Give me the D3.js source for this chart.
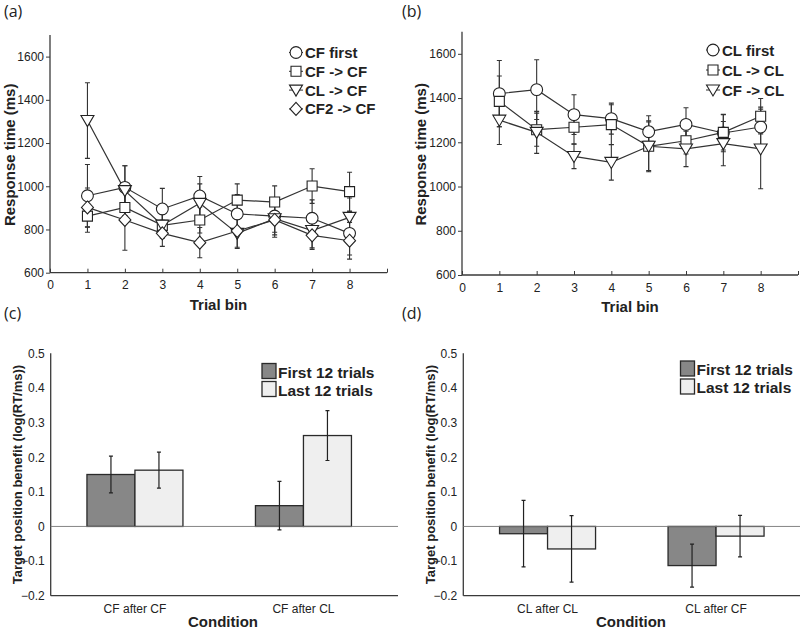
<!DOCTYPE html>
<html><head><meta charset="utf-8">
<script src="https://cdn.jsdelivr.net/npm/d3@7"></script>
<style>body{margin:0;background:#fff}svg{display:block;font-family:"Liberation Sans",Arial,sans-serif}</style>
</head><body>
<svg id="c" width="800" height="630"></svg>
<script>
// ---------- DATA ----------
const bins = [1, 2, 3, 4, 5, 6, 7, 8];
const xTicksLine = [0, 1, 2, 3, 4, 5, 6, 7, 8, 9];
const yTicksLine = [600, 800, 1000, 1200, 1400, 1600];

const seriesA = ["CF first", "CF -> CF", "CL -> CF", "CF2 -> CF"];
const aCFfirst = [956, 995, 895, 955, 872, 862, 852, 782];
const aCFfirstErr = [145, 100, 95, 90, 90, 75, 85, 100];
const aCFCF = [862, 902, 819, 844, 936, 927, 1001, 975];
const aCFCFErr = [75, 70, 50, 60, 75, 75, 80, 90];
const aCLCF = [1304, 980, 820, 921, 782, 850, 795, 856];
const aCLCFErr = [175, 115, 60, 90, 70, 75, 80, 90];
const aCF2CF = [902, 844, 782, 739, 793, 844, 773, 748];
const aCF2CFErr = [90, 140, 60, 70, 75, 80, 65, 85];

const seriesB = ["CL first", "CL -> CL", "CF -> CL"];
const bCLfirst = [1420, 1438, 1325, 1307, 1248, 1281, 1242, 1269];
const bCLfirstErr = [150, 135, 90, 70, 72, 75, 85, 90];
const bCLCL = [1385, 1257, 1268, 1280, 1182, 1207, 1245, 1318];
const bCLCLErr = [115, 75, 75, 90, 110, 60, 80, 80];
const bCFCL = [1300, 1245, 1136, 1109, 1182, 1170, 1194, 1170];
const bCFCLErr = [110, 95, 55, 80, 115, 80, 100, 180];

const barSeries = ["First 12 trials", "Last 12 trials"];
const barTicks = [-0.2, -0.1, 0, 0.1, 0.2, 0.3, 0.4, 0.5];
const cCats = ["CF after CF", "CF after CL"];
const cFirst = [0.15, 0.06];
const cFirstErr = [0.053, 0.07];
const cLast = [0.1625, 0.2625];
const cLastErr = [0.052, 0.072];
const dCats = ["CL after CL", "CL after CF"];
const dFirst = [-0.021, -0.113];
const dFirstErr = [0.096, 0.062];
const dLast = [-0.065, -0.028];
const dLastErr = [0.096, 0.06];

// ---------- DRAW ----------
const svg = d3.select("#c");
const AX = "#3a3a3a", TXT = "#222";
const DARK = "#878787", LIGHT = "#efefef";

function panelLabel(t, x, y) {
  svg.append("text").attr("x", x).attr("y", y).attr("font-size", 16)
    .attr("font-family", "'Open Sans',sans-serif").attr("fill", TXT).text(t);
}
panelLabel("(a)", 4, 17); panelLabel("(b)", 402, 17);
panelLabel("(c)", 4, 319); panelLabel("(d)", 402, 319);

function marker(g, type, x, y) {
  const s = g.append("path").attr("transform", `translate(${x},${y})`)
    .attr("fill", "#fff").attr("stroke", "#222").attr("stroke-width", 1.1);
  if (type === "circle") s.attr("d", d3.symbol(d3.symbolCircle, 110)());
  else if (type === "square") s.attr("d", "M-5,-5H5V5H-5Z");
  else if (type === "tri") s.attr("d", "M-6.5,-5H6.5L0,6Z");
  else s.attr("d", "M0,-6.5L6,0L0,6.5L-6,0Z");
}

function linePanel(opt) {
  const x = d3.scaleLinear().domain([0, 9]).range([opt.x0, opt.x1]);
  const y = d3.scaleLinear().domain([600, 1700]).range([opt.y0, opt.y1]);
  const g = svg.append("g");
  const ya = g.append("g").attr("transform", `translate(${opt.x0},0)`)
    .call(d3.axisLeft(y).tickValues(yTicksLine).tickSize(4).tickPadding(2).tickFormat(d3.format("d")));
  const xa = g.append("g").attr("transform", `translate(0,${opt.y0})`)
    .call(d3.axisBottom(x).tickValues(xTicksLine).tickSize(-4).tickPadding(8)
      .tickFormat(d => d === 9 ? "" : d));
  [ya, xa].forEach(a => {
    a.select(".domain").attr("stroke", AX).attr("stroke-width", 1.3);
    a.selectAll(".tick line").attr("stroke", AX);
    a.selectAll("text").attr("font-size", 12).attr("fill", TXT)
      .attr("font-family", "'Liberation Sans',Arial,sans-serif");
  });
  xa.select(".domain").attr("d", `M${opt.x0},0H${opt.x1}`);
  ya.select(".domain").attr("d", `M0,${opt.y0}V${opt.y1}`);
  g.append("text").attr("transform", `translate(${opt.ylx},${(opt.y0 + opt.y1) / 2 + 1}) rotate(-90)`)
    .attr("text-anchor", "middle").attr("font-size", 15).attr("font-weight", "bold").attr("fill", TXT)
    .text("Response time (ms)");
  g.append("text").attr("x", (opt.x0 + opt.x1) / 2).attr("y", opt.y0 + 37)
    .attr("text-anchor", "middle").attr("font-size", 15).attr("font-weight", "bold").attr("fill", TXT)
    .text("Trial bin");
  opt.series.forEach(s => {
    s.vals.forEach((v, i) => {
      const cx = x(bins[i]);
      const t = y(v + s.err[i]), b = y(v - s.err[i]);
      g.append("path").attr("d", `M${cx},${t}V${b}M${cx - 2.5},${t}H${cx + 2.5}M${cx - 2.5},${b}H${cx + 2.5}`)
        .attr("stroke", "#333").attr("stroke-width", 1.1).attr("fill", "none");
    });
    g.append("path").datum(s.vals)
      .attr("d", d3.line().x((d, i) => x(bins[i])).y(d => y(d)))
      .attr("fill", "none").attr("stroke", "#333").attr("stroke-width", 1.2);
  });
  opt.series.forEach(s => s.vals.forEach((v, i) => marker(g, s.type, x(bins[i]), y(v))));
  opt.series.forEach((s, k) => {
    const ly = opt.ly + k * opt.lstep;
    g.append("path").attr("d", `M${opt.lx - 7},${ly}H${opt.lx + 7}`).attr("stroke", "#333");
    marker(g, s.type, opt.lx, ly);
    g.append("text").attr("x", opt.lx + 9).attr("y", ly + 5.5).attr("font-size", 15)
      .attr("font-weight", "bold").attr("fill", TXT).text(s.name);
  });
}

linePanel({
  x0: 50, x1: 387, y0: 272.7, y1: 35, ylx: 15, lx: 296, ly: 52.5, lstep: 18.8,
  series: [
    { name: seriesA[0], vals: aCFfirst, err: aCFfirstErr, type: "circle" },
    { name: seriesA[1], vals: aCFCF, err: aCFCFErr, type: "square" },
    { name: seriesA[2], vals: aCLCF, err: aCLCFErr, type: "tri" },
    { name: seriesA[3], vals: aCF2CF, err: aCF2CFErr, type: "diamond" }
  ]
});
linePanel({
  x0: 462, x1: 798, y0: 275, y1: 31.7, ylx: 426, lx: 713, ly: 50, lstep: 20,
  series: [
    { name: seriesB[0], vals: bCLfirst, err: bCLfirstErr, type: "circle" },
    { name: seriesB[1], vals: bCLCL, err: bCLCLErr, type: "square" },
    { name: seriesB[2], vals: bCFCL, err: bCFCLErr, type: "tri" }
  ]
});

function barPanel(opt) {
  const x = d3.scaleBand().domain(opt.cats).range([opt.x0, opt.x0 + 337]);
  const y = d3.scaleLinear().domain([-0.2, 0.5]).range([595.7, 353.3]);
  const inner = d3.scaleBand().domain(barSeries).range([-48, 48]);
  const g = svg.append("g");
  const ya = g.append("g").attr("transform", `translate(${opt.x0},0)`)
    .call(d3.axisLeft(y).tickValues(barTicks).tickSize(0).tickPadding(6)
      .tickFormat(d => d === 0 ? "0" : d3.format(".1f")(d)));
  ya.select(".domain").attr("stroke", AX).attr("stroke-width", 1.3).attr("d", `M0,595.7V353.3`);
  ya.selectAll("text").attr("font-size", 12).attr("fill", TXT).attr("font-family", "'Liberation Sans',Arial,sans-serif");
  const xa = g.append("g").attr("transform", `translate(0,595.7)`)
    .call(d3.axisBottom(x).tickSize(0).tickPadding(9));
  xa.select(".domain").attr("stroke", AX).attr("stroke-width", 1.3).attr("d", `M${opt.x0},0H${opt.xend}`);
  xa.selectAll("text").attr("font-size", 12).attr("fill", TXT).attr("font-family", "'Liberation Sans',Arial,sans-serif");
  const sets = [[opt.first, opt.firstErr, DARK], [opt.last, opt.lastErr, LIGHT]];
  sets.forEach((s, k) => {
    opt.cats.forEach((c, i) => {
      const bx = x(c) + x.bandwidth() / 2 + inner(barSeries[k]);
      const v = s[0][i];
      g.append("rect").attr("x", bx).attr("width", inner.bandwidth())
        .attr("y", Math.min(y(v), y(0))).attr("height", Math.abs(y(v) - y(0)))
        .attr("fill", s[2]).attr("stroke", "#2a2a2a").attr("stroke-width", 1.3);
    });
  });
  g.append("line").attr("x1", opt.x0).attr("x2", opt.xend).attr("y1", y(0)).attr("y2", y(0))
    .attr("stroke", "#777").attr("stroke-width", 0.9);
  sets.forEach((s, k) => {
    opt.cats.forEach((c, i) => {
      const cx = x(c) + x.bandwidth() / 2 + inner(barSeries[k]) + inner.bandwidth() / 2;
      const t = y(s[0][i] + s[1][i]), b = y(s[0][i] - s[1][i]);
      g.append("path").attr("d", `M${cx},${t}V${b}M${cx - 2},${t}H${cx + 2}M${cx - 2},${b}H${cx + 2}`)
        .attr("stroke", "#222").attr("stroke-width", 1.2).attr("fill", "none");
    });
  });
  g.append("text").attr("transform", `translate(${opt.ylx},474.5) rotate(-90)`)
    .attr("text-anchor", "middle").attr("font-size", 13).attr("font-weight", "bold").attr("fill", TXT)
    .text("Target position benefit (log(RT/ms))");
  g.append("text").attr("x", opt.cx).attr("y", 627).attr("text-anchor", "middle")
    .attr("font-size", 15).attr("font-weight", "bold").attr("fill", TXT).text("Condition");
  barSeries.forEach((n, k) => {
    const ly = opt.ly + k * 18;
    g.append("rect").attr("x", opt.lx).attr("y", ly).attr("width", 14).attr("height", 15)
      .attr("fill", k === 0 ? DARK : LIGHT).attr("stroke", "#2a2a2a").attr("stroke-width", 1.3);
    g.append("text").attr("x", opt.lx + 16).attr("y", ly + 14).attr("font-size", 15.5)
      .attr("font-weight", "bold").attr("fill", TXT).text(n);
  });
}

barPanel({ cats: cCats, first: cFirst, firstErr: cFirstErr, last: cLast, lastErr: cLastErr,
  x0: 50.7, xend: 398, ylx: 22, cx: 223, lx: 262, ly: 363.5 });
barPanel({ cats: dCats, first: dFirst, firstErr: dFirstErr, last: dLast, lastErr: dLastErr,
  x0: 463.3, xend: 800, ylx: 435, cx: 631, lx: 680.5, ly: 361 });
</script>
</body></html>
